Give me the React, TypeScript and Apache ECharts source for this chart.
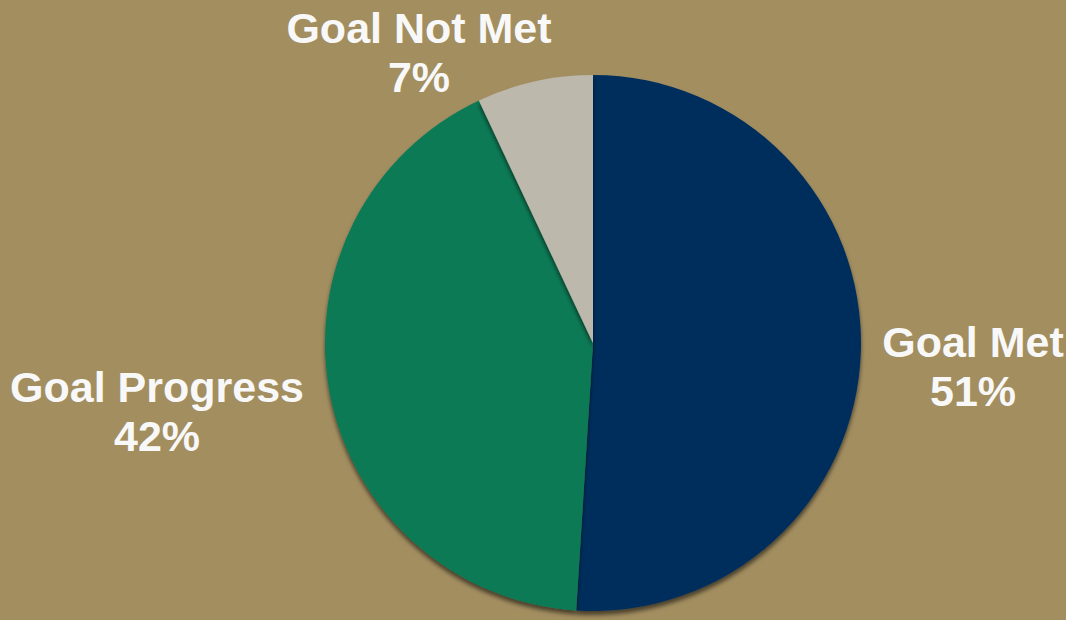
import React, { useEffect, useRef } from "react";
import * as echarts from "echarts";

const categories = ["Goal Met", "Goal Progress", "Goal Not Met"];
const values = [51, 42, 7];
const colors = ["#062E5C", "#087A57", "#BDB8AC"];
const labelPositions = [
  [973, 366],
  [157, 411],
  [419, 52],
];

export default function App() {
  const ref = useRef<HTMLDivElement>(null);
  useEffect(() => {
    document.body.style.margin = "0";
    const chart = echarts.init(ref.current!, null, { renderer: "svg" });
    chart.setOption({
      animation: false,
      backgroundColor: "#A38E60",
      series: [
        {
          type: "pie",
          center: [593, 343],
          radius: 268,
          startAngle: 90,
          clockwise: true,
          data: categories.map((c, i) => ({
            name: c,
            value: values[i],
            itemStyle: { color: colors[i] },
          })),
          itemStyle: {
            shadowColor: "rgba(0,0,0,0.55)",
            shadowBlur: 4,
            shadowOffsetY: 4,
          },
          emphasis: { disabled: true },
          labelLine: { show: false },
          label: {
            show: true,
            position: "outside",
            overflow: "none",
            formatter: (p: any) => `${p.name}\n${Math.round(p.percent)}%`,
            color: "#F8F8F8",
            fontFamily: "Liberation Sans, Arial, sans-serif",
            fontWeight: "bold",
            fontSize: 43,
            lineHeight: 49,
            align: "center",
          },
          labelLayout: (params: any) => {
            const pos = labelPositions[params.dataIndex];
            return {
              x: pos[0],
              y: pos[1],
              align: "center",
              verticalAlign: "middle",
            };
          },
        },
      ],
    });
    return () => chart.dispose();
  }, []);
  return <div ref={ref} style={{ width: 1066, height: 620 }} />;
}
